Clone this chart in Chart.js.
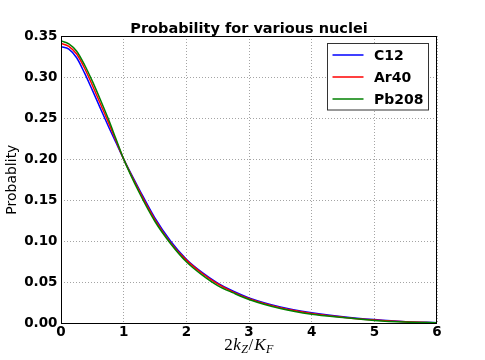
<!DOCTYPE html>
<html>
<head>
<meta charset="utf-8">
<script src="https://cdn.jsdelivr.net/npm/chart.js@4.4.1/dist/chart.umd.min.js"></script>
<style>
  html, body { margin: 0; padding: 0; background: #ffffff; }
  #wrap { width: 485px; height: 360px; }
</style>
</head>
<body>
<div id="wrap"><canvas id="c" width="485" height="360"></canvas></div>
<script>
// ---- data ----
const xValues = [0, 0.125, 0.25, 0.375, 0.5, 0.625, 0.75, 0.875, 1.0, 1.25, 1.5, 1.75, 2.0, 2.25, 2.5, 2.75, 3.0, 3.5, 4.0, 4.5, 5.0, 5.5, 6.0];
const c12   = [0.337, 0.334, 0.3235, 0.305, 0.284, 0.2625, 0.241, 0.2205, 0.200, 0.163, 0.128, 0.100, 0.078, 0.062, 0.049, 0.039, 0.031, 0.020, 0.013, 0.008, 0.0045, 0.002, 0.0008];
const ar40  = [0.341, 0.3375, 0.328, 0.311, 0.290, 0.268, 0.246, 0.223, 0.200, 0.161, 0.126, 0.098, 0.077, 0.061, 0.048, 0.038, 0.030, 0.019, 0.012, 0.0075, 0.004, 0.0018, 0.0007];
const pb208 = [0.344, 0.3405, 0.3315, 0.315, 0.295, 0.273, 0.250, 0.225, 0.200, 0.159, 0.124, 0.097, 0.075, 0.059, 0.046, 0.037, 0.029, 0.018, 0.011, 0.007, 0.0035, 0.0015, 0.0006];
const seriesNames = ['C12', 'Ar40', 'Pb208'];
const xTickValues = [0, 1, 2, 3, 4, 5, 6];
const yTickValues = [0, 0.05, 0.10, 0.15, 0.20, 0.25, 0.30, 0.35];
const titleText = 'Probability for various nuclei';
const yTitleText = 'Probablity';

const colors = ['#0000ff', '#ff0000', '#008000'];
const allSeries = [c12, ar40, pb208];

function toPoints(ys) { return xValues.map((x, i) => ({ x: x, y: ys[i] })); }

const datasets = allSeries.map((s, i) => ({
  label: seriesNames[i],
  data: toPoints(s),
  borderColor: colors[i],
  backgroundColor: colors[i],
  borderWidth: 1.5,
  pointRadius: 0,
  cubicInterpolationMode: 'monotone',
  fill: false,
  order: 3 - i
}));

const framePlugin = {
  id: 'frameAndExtras',
  afterDatasetsDraw(chart) {
    const ctx = chart.ctx;
    const a = chart.chartArea;
    ctx.save();
    // frame
    ctx.strokeStyle = '#000000';
    ctx.lineWidth = 1;
    ctx.strokeRect(Math.round(a.left) + 0.5, Math.round(a.top) + 0.5,
                   Math.round(a.right - a.left) - 1, Math.round(a.bottom - a.top));
    // title centred over the plot area
    ctx.fillStyle = '#000000';
    ctx.font = 'bold 14.5px "DejaVu Sans"';
    ctx.textAlign = 'center';
    ctx.textBaseline = 'alphabetic';
    ctx.fillText(titleText, (a.left + a.right) / 2, 33);
    // legend
    const lx = 327.5, ly = 43.5, lw = 101, lh = 66.5;
    ctx.fillStyle = '#ffffff';
    ctx.fillRect(lx, ly, lw, lh);
    ctx.strokeStyle = '#333333';
    ctx.lineWidth = 1;
    ctx.strokeRect(lx, ly, lw, lh);
    ctx.font = 'bold 14px "DejaVu Sans"';
    ctx.textBaseline = 'middle';
    ctx.textAlign = 'left';
    chart.data.datasets.forEach((ds, i) => {
      const y = 55 + i * 22;
      ctx.strokeStyle = ds.borderColor;
      ctx.lineWidth = 1.5;
      ctx.beginPath();
      ctx.moveTo(332.5, y);
      ctx.lineTo(363.5, y);
      ctx.stroke();
      ctx.fillStyle = '#000000';
      ctx.fillText(ds.label, 374, y + 1);
    });
    // x axis label: 2k_Z / K_F
    const parts = [
      { t: '2', f: '17px "Liberation Serif"', dy: 0 },
      { t: 'k', f: 'italic 17px "Liberation Serif"', dy: 0 },
      { t: 'Z', f: 'italic 12px "Liberation Serif"', dy: 3 },
      { t: '/', f: '17px "Liberation Serif"', dy: 0 },
      { t: 'K', f: 'italic 17px "Liberation Serif"', dy: 0 },
      { t: 'F', f: 'italic 12px "Liberation Serif"', dy: 3 }
    ];
    let total = 0;
    parts.forEach(p => { ctx.font = p.f; p.w = ctx.measureText(p.t).width + (p.t === '/' ? 1 : 0.5); total += p.w; });
    let x = (a.left + a.right) / 2 - total / 2;
    const base = 349.5;
    ctx.fillStyle = '#000000';
    ctx.textBaseline = 'alphabetic';
    parts.forEach(p => { ctx.font = p.f; ctx.fillText(p.t, x, base + p.dy); x += p.w; });
    ctx.restore();
  }
};

new Chart(document.getElementById('c'), {
  type: 'line',
  data: { datasets: datasets },
  options: {
    responsive: false,
    animation: false,
    devicePixelRatio: 1,
    layout: { padding: { left: 0, right: 48, top: 36, bottom: 0 } },
    plugins: {
      legend: { display: false },
      tooltip: { enabled: false },
      title: { display: false }
    },
    scales: {
      x: {
        type: 'linear',
        min: 0, max: 6,
        afterFit(scale) { scale.height = 36.7; },
        afterBuildTicks(scale) { scale.ticks = xTickValues.map(v => ({ value: v })); },
        ticks: {
          color: '#000000',
          font: { family: 'DejaVu Sans', size: 13.5, weight: 'bold' },
          padding: 1,
          maxRotation: 0,
          callback: v => String(v)
        },
        grid: { color: 'rgba(0,0,0,0.45)', lineWidth: 0.8, drawTicks: false },
        border: { display: false, dash: [1, 2] }
      },
      y: {
        type: 'linear',
        min: 0, max: 0.35,
        afterFit(scale) { scale.width = 61; },
        afterBuildTicks(scale) { scale.ticks = yTickValues.map(v => ({ value: v })); },
        ticks: {
          color: '#000000',
          font: { family: 'DejaVu Sans', size: 13.5, weight: 'bold' },
          padding: 3.5,
          callback: v => Number(v).toFixed(2)
        },
        title: {
          display: true,
          text: yTitleText,
          color: '#000000',
          font: { family: 'DejaVu Sans', size: 14 },
          padding: { top: 4, bottom: 0 }
        },
        grid: { color: 'rgba(0,0,0,0.45)', lineWidth: 0.8, drawTicks: false },
        border: { display: false, dash: [1, 2] }
      }
    }
  },
  plugins: [framePlugin]
});
</script>
</body>
</html>
